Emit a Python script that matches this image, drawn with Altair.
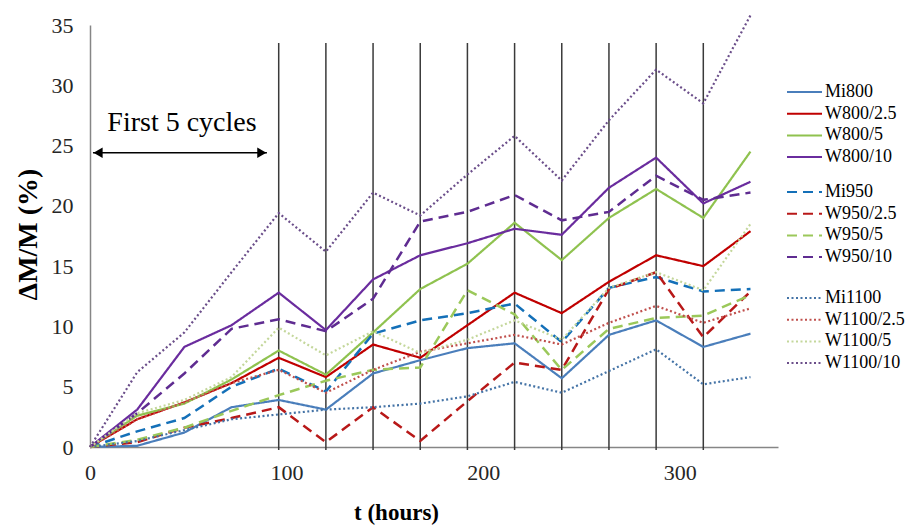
import altair as alt
import pandas as pd

# ---------------- data ----------------
t_hours = [0, 24, 48, 72, 96, 120, 144, 168, 192, 216, 240, 264, 288, 312, 336]

mi800     = [0, 0.1, 1.2, 3.3, 3.9, 3.1, 6.1, 7.2, 8.2, 8.6, 5.7, 9.3, 10.5, 8.3, 9.4]
w800_2_5  = [0, 2.3, 3.7, 5.3, 7.4, 5.8, 8.5, 7.4, 10.1, 12.8, 11.1, 13.7, 15.9, 15.0, 17.9]
w800_5    = [0, 2.6, 3.6, 5.6, 8.0, 6.0, 9.5, 13.1, 15.2, 18.6, 15.5, 19.0, 21.4, 19.0, 24.5]
w800_10   = [0, 3.1, 8.3, 10.1, 12.8, 9.7, 13.9, 15.9, 16.9, 18.1, 17.6, 21.5, 24.0, 20.2, 22.0]

mi950     = [0, 1.3, 2.4, 5.0, 6.5, 4.6, 9.4, 10.5, 11.1, 11.9, 8.7, 13.2, 14.1, 12.9, 13.1]
w950_2_5  = [0, 0.4, 1.6, 2.4, 3.3, 0.4, 3.3, 0.5, 3.8, 7.0, 6.4, 13.1, 14.5, 9.1, 12.9]
w950_5    = [0, 0.6, 1.6, 3.0, 4.3, 5.5, 6.4, 6.6, 13.0, 11.0, 6.4, 9.8, 10.7, 10.9, 12.6]
w950_10   = [0, 2.8, 6.1, 9.8, 10.6, 9.6, 12.3, 18.7, 19.5, 20.9, 18.8, 19.5, 22.5, 20.5, 21.1]

mi1100    = [0, 0.5, 1.4, 2.3, 2.7, 3.1, 3.3, 3.6, 4.2, 5.4, 4.5, 6.3, 8.1, 5.2, 5.8]
w1100_2_5 = [0, 2.3, 3.7, 5.3, 6.4, 4.5, 6.4, 7.9, 8.6, 9.3, 8.5, 10.3, 11.7, 10.3, 11.5]
w1100_5   = [0, 2.8, 3.9, 5.8, 9.9, 7.6, 9.6, 7.8, 8.9, 10.5, 8.9, 13.2, 14.5, 13.0, 18.5]
w1100_10  = [0, 6.2, 9.5, 14.5, 19.4, 16.2, 21.1, 19.2, 22.6, 25.8, 22.1, 27.1, 31.3, 28.5, 35.8]

names_800 = ["Mi800", "W800/2.5", "W800/5", "W800/10"]
names_950 = ["Mi950", "W950/2.5", "W950/5", "W950/10"]
names_1100 = ["Mi1100", "W1100/2.5", "W1100/5", "W1100/10"]

colors_800 = ["#4A7EBB", "#C00000", "#8FC24F", "#6A2C9E"]
colors_950 = ["#1470B8", "#B81818", "#9BC85A", "#5F2C91"]
colors_1100 = ["#4473A6", "#C0504D", "#C4D79B", "#6B4E8A"]

cycle_marks = [96, 120, 144, 168, 192, 216, 240, 264, 288, 312]
cycle_bottom = -0.25
cycle_top = 33.5

arrow_start, arrow_end, arrow_level = 1.5, 90, 24.4
head_left, head_right = 4.1, 87.4
label_text = "First 5 cycles"
label_t, label_level = 46.8, 26.9

SERIF = "'Liberation Serif', 'Times New Roman', Times, serif"

# ---------------- scales / axes ----------------
x_scale = alt.Scale(domain=[0, 350], nice=False, zero=False)
y_scale = alt.Scale(domain=[0, 35], nice=False)

x_axis = alt.Axis(values=[0, 100, 200, 300], title="t (hours)", ticks=False, grid=False,
                  domainColor="#868686", domainWidth=1.5,
                  labelFont=SERIF, labelFontSize=22, labelColor="#262626",
                  labelPadding=15, labelFlush=False,
                  titleFont=SERIF, titleFontSize=23, titleFontWeight="bold",
                  titleColor="#000000", titleX=306, titleY=65, titleBaseline="middle",
                  titleAlign="center")
y_axis = alt.Axis(values=[0, 5, 10, 15, 20, 25, 30, 35], title="ΔM/M (%)", ticks=False, grid=False,
                  domainColor="#868686", domainWidth=1.5,
                  labelFont=SERIF, labelFontSize=22, labelColor="#262626",
                  labelPadding=17,
                  titleFont=SERIF, titleFontSize=28, titleFontWeight="bold",
                  titleColor="#000000", titleX=-62, titleY=209, titleBaseline="middle",
                  titleAlign="center", titleAngle=-90)


def long_df(names, series_list):
    rows = []
    for n, vals in zip(names, series_list):
        for t, v in zip(t_hours, vals):
            rows.append({"series": n, "t": t, "dm": v})
    return pd.DataFrame(rows)


def line_layer(names, series_list, colors, dash, width, legend_y):
    df = long_df(names, series_list)
    leg = alt.Legend(orient="none", legendX=704.5, legendY=legend_y, title=None,
                     symbolType="M-2,0H2", symbolSize=306.25, symbolStrokeWidth=2,
                     rowPadding=2.7, labelOffset=10.5, padding=0,
                     labelFont=SERIF, labelFontSize=18, labelColor="#000000",
                     labelLimit=300)
    return alt.Chart(df).mark_line(strokeWidth=width, clip=False).encode(
        x=alt.X("t:Q", scale=x_scale, axis=x_axis),
        y=alt.Y("dm:Q", scale=y_scale, axis=y_axis),
        color=alt.Color("series:N", scale=alt.Scale(domain=names, range=colors), legend=leg),
        strokeDash=alt.StrokeDash("series:N", scale=alt.Scale(domain=names, range=[dash] * len(names)),
                                  legend=leg),
        order=alt.Order("t:Q"),
    )


rules_df = pd.DataFrame({"c": cycle_marks, "lo": [cycle_bottom] * len(cycle_marks),
                         "hi": [cycle_top] * len(cycle_marks)})
rules = alt.Chart(rules_df).mark_rule(color="#3a3a3a", strokeWidth=1.5).encode(
    x=alt.X("c:Q", scale=x_scale, axis=x_axis),
    y=alt.Y("lo:Q", scale=y_scale, axis=y_axis),
    y2="hi:Q",
)

arrow_df = pd.DataFrame({"a": [arrow_start], "b": [arrow_end], "lvl": [arrow_level]})
arrow = alt.Chart(arrow_df).mark_rule(color="#000000", strokeWidth=1.5).encode(
    x=alt.X("a:Q", scale=x_scale, axis=x_axis),
    x2="b:Q",
    y=alt.Y("lvl:Q", scale=y_scale, axis=y_axis),
)
heads_df = pd.DataFrame({"h": [head_left, head_right], "lvl": [arrow_level, arrow_level],
                         "shape": ["triangle-left", "triangle-right"]})
heads = alt.Chart(heads_df).mark_point(filled=True, color="#000000", size=110, opacity=1).encode(
    x=alt.X("h:Q", scale=x_scale, axis=x_axis),
    y=alt.Y("lvl:Q", scale=y_scale, axis=y_axis),
    shape=alt.Shape("shape:N", scale=None, legend=None),
)
label_df = pd.DataFrame({"t": [label_t], "lvl": [label_level], "txt": [label_text]})
label = alt.Chart(label_df).mark_text(font=SERIF, fontSize=28, color="#000000",
                                      align="center", baseline="middle").encode(
    x=alt.X("t:Q", scale=x_scale, axis=x_axis),
    y=alt.Y("lvl:Q", scale=y_scale, axis=y_axis),
    text="txt:N",
)

g800 = line_layer(names_800, [mi800, w800_2_5, w800_5, w800_10], colors_800, [1, 0], 2.2, 57)
g950 = line_layer(names_950, [mi950, w950_2_5, w950_5, w950_10], colors_950, [10, 6], 2.5, 157)
g1100 = line_layer(names_1100, [mi1100, w1100_2_5, w1100_5, w1100_10], colors_1100, [2, 2.5], 2.2, 263)

chart = alt.layer(rules, arrow, heads, label, g800, g950, g1100).resolve_scale(
    color="independent", strokeDash="independent", shape="independent"
).properties(
    width=688, height=422,
    padding={"left": 90, "top": 25, "right": 135, "bottom": 83},
    autosize=alt.AutoSizeParams(type="none"),
    background="#ffffff",
).configure_view(strokeWidth=0)

chart.save("out.html", embed_options={"renderer": "svg", "actions": False})
